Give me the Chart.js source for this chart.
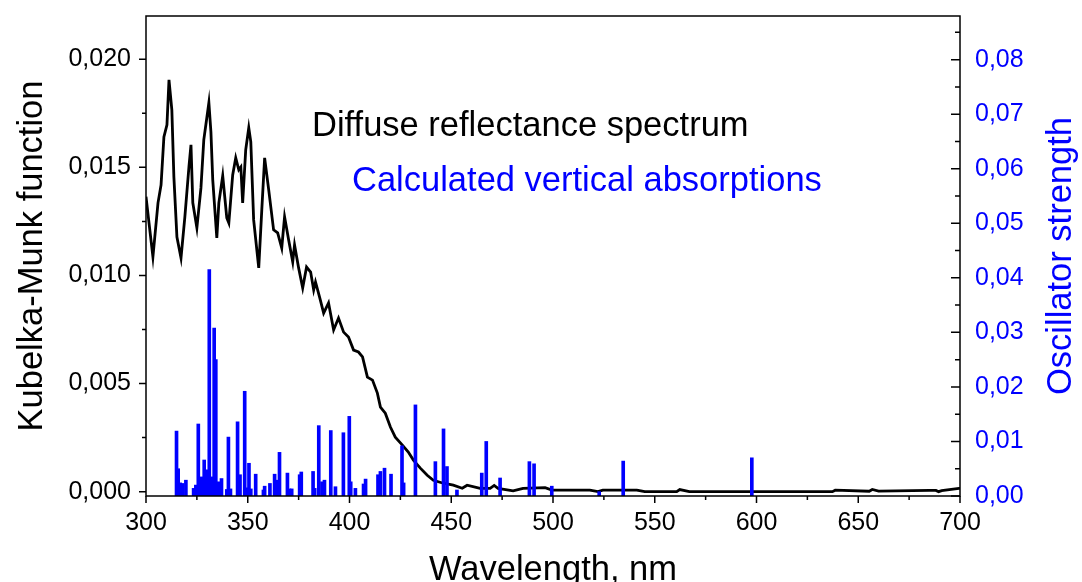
<!DOCTYPE html>
<html>
<head>
<meta charset="utf-8">
<script src="https://cdn.jsdelivr.net/npm/chart.js@4/dist/chart.umd.min.js"></script>
<style>
  body { margin: 0; background: #fff; }
  canvas { display: block; }
</style>
</head>
<body>
<canvas id="spectrumChart" width="1082" height="582"></canvas>
<script>
// Diffuse reflectance spectrum (Kubelka-Munk)
const specWl = [300, 303.4, 305.9, 307.4, 308.8, 310.3, 311.3, 312.7, 313.7, 315.2, 317.2, 319.1, 321.1, 322.1, 323.0,
  325.0, 327.0, 328.4, 330.9, 331.9, 332.8, 334.8, 335.8, 337.7, 339.7, 340.7, 342.6, 344.1, 345.6, 346.6, 347.5,
  349.0, 350.5, 351.5, 352.9, 355.4, 356.9, 358.3, 360.3, 362.7, 364.7, 366.7, 368.1, 370.1, 372.1, 373.0, 375.0,
  377.0, 378.9, 380.9, 382.4, 383.3, 385.3, 387.3, 389.7, 392.2, 394.6, 397.1, 399.5, 402.0, 404.4, 406.4, 408.8,
  411.3, 413.7, 415.2, 417.6, 420.1, 422.5, 426.0, 428.9, 431.4, 434.8, 438.2, 441.2, 446.1, 451.0, 455.4, 457.8,
  464.2, 469.1, 471.1, 473.0, 480.4, 485.3, 496.1, 499.5, 518.1, 522.1, 524.5, 541.2, 545.1, 560.8, 562.3, 567.0,
  637.3, 638.7, 655.4, 656.9, 660.0, 685.0, 688.2, 689.5, 691.0, 699.5, 700];
const specKM = [0.01364, 0.01086, 0.01336, 0.01419, 0.01641, 0.01697, 0.01905, 0.01766, 0.01456, 0.01178, 0.01081,
  0.01271, 0.01502, 0.01604, 0.01336, 0.01220, 0.01405, 0.01627, 0.01799, 0.01664, 0.01442, 0.01174, 0.01336,
  0.01461, 0.01266, 0.01243, 0.01465, 0.01544, 0.01489, 0.01502, 0.01336, 0.01581, 0.01683, 0.01618, 0.01257,
  0.01035, 0.01303, 0.01544, 0.01396, 0.01211, 0.01197, 0.01127, 0.01271, 0.01164, 0.01063, 0.01141, 0.01035,
  0.00942, 0.01039, 0.01016, 0.00933, 0.00970, 0.00900, 0.00826, 0.00873, 0.00748, 0.00803, 0.00738, 0.00715,
  0.00655, 0.00646, 0.00623, 0.00530, 0.00516, 0.00456, 0.00391, 0.00363, 0.00299, 0.00252, 0.00215, 0.00183,
  0.00146, 0.00109, 0.00076, 0.00053, 0.00039, 0.00030, 0.00016, 0.00030,
  0.00015, 0.00015, 0.00029, 0.00015, 0.00004, 0.00015, 0.00019, 0.00007, 0.00007, 0.00000, 0.00007, 0.00007,
  0.00000, 0.00000, 0.00010, 0.00000, 0.00000, 0.00007, 0.00002, 0.00010, 0.00003, 0.00006, 0.00006, 0.00000,
  0.00005, 0.00015, 0.00015];

// Calculated vertical absorptions (oscillator strengths)
const stickWl = [315.0, 315.8, 316.8, 318.0, 319.6, 323.4, 324.5, 325.7, 327.3, 328.6, 329.8, 331.1, 332.2, 333.5,
  334.3, 335.5, 337.1, 339.7, 340.5, 341.5, 345.0, 346.2, 348.5, 349.3, 350.6, 351.5, 353.9, 357.7, 358.3, 360.9,
  363.2, 364.0, 365.6, 369.5, 370.5, 371.6, 375.5, 376.3, 382.1, 382.9, 384.9, 386.5, 387.7, 390.8, 393.1, 397.0,
  399.9, 400.6, 402.9, 406.9, 407.9, 414.0, 415.2, 417.2, 420.4, 425.8, 426.6, 432.4, 442.2, 446.2, 447.9, 452.8,
  465.0, 467.2, 474.0, 488.4, 490.7, 499.4, 522.7, 534.5, 597.7];
const stickF = [0.0119, 0.0050, 0.0024, 0.0023, 0.0029, 0.0014, 0.0020, 0.0132, 0.0035, 0.0066, 0.0048, 0.0415,
  0.0035, 0.0308, 0.0250, 0.0026, 0.0032, 0.0012, 0.0108, 0.0013, 0.0136, 0.0039, 0.0192, 0.0015, 0.0060, 0.0013,
  0.0040, 0.0011, 0.0018, 0.0023, 0.0040, 0.0029, 0.0080, 0.0042, 0.0013, 0.0013, 0.0039, 0.0044, 0.0045, 0.0014,
  0.0129, 0.0026, 0.0029, 0.0120, 0.0017, 0.0116, 0.0146, 0.0026, 0.0014, 0.0022, 0.0031, 0.0039, 0.0045, 0.0051,
  0.0040, 0.0092, 0.0024, 0.0167, 0.0063, 0.0123, 0.0054, 0.0011, 0.0042, 0.0100, 0.0033, 0.0063, 0.0059, 0.0018,
  0.0008, 0.0064, 0.0070];

// tick labels
const wlTicks = [300, 350, 400, 450, 500, 550, 600, 650, 700];
const kmTicks = [0, 0.005, 0.010, 0.015, 0.020];
const oscTicks = [0, 0.01, 0.02, 0.03, 0.04, 0.05, 0.06, 0.07, 0.08];

const FONT = 'Arial, "Liberation Sans", sans-serif';
const BLUE = '#0000ff';

function comma(v, d) {
  return v.toFixed(d).replace('.', ',');
}

// fixed axis boxes so the plot frame sits where the original one is
function fixWidth(w) {
  return s => { s.width = w; s.paddingTop = 0; s.paddingBottom = 0; };
}

// frame, Origin-style tick marks and the free texts
const frameAndText = {
  id: 'frameAndText',
  afterDraw(chart) {
    const { ctx, chartArea: a, scales } = chart;
    ctx.save();
    ctx.strokeStyle = '#000';
    ctx.lineWidth = 1.5;
    ctx.strokeRect(a.left, a.top, a.right - a.left, a.bottom - a.top);

    ctx.beginPath();
    for (let v = 300; v <= 700; v += 25) {
      const x = scales.x.getPixelForValue(v);
      const len = v % 50 === 0 ? 7 : 4;
      ctx.moveTo(x, a.bottom);
      ctx.lineTo(x, a.bottom + len);
    }
    for (let i = 0; i <= 8; i++) {
      const y = scales.y.getPixelForValue(i * 0.0025);
      const len = i % 2 === 0 ? 7 : 4;
      ctx.moveTo(a.left, y);
      ctx.lineTo(a.left - len, y);
    }
    for (let i = 0; i <= 17; i++) {
      const y = scales.y2.getPixelForValue(i * 0.005);
      const len = i % 2 === 0 ? 9 : 5;
      ctx.moveTo(a.right, y);
      ctx.lineTo(a.right - len, y);
    }
    ctx.stroke();

    ctx.font = '34.5px ' + FONT;
    ctx.textAlign = 'left';
    ctx.textBaseline = 'alphabetic';
    ctx.fillStyle = '#000';
    ctx.fillText('Diffuse reflectance spectrum', 312, 136);
    ctx.fillStyle = BLUE;
    ctx.fillText('Calculated vertical absorptions', 352, 191);

    // right title reads bottom to top like the left one
    ctx.translate(1061, (a.top + a.bottom) / 2);
    ctx.rotate(-Math.PI / 2);
    ctx.textAlign = 'center';
    ctx.textBaseline = 'middle';
    ctx.fillText('Oscillator strength', 0, 0);
    ctx.restore();
  }
};

const ctx = document.getElementById('spectrumChart').getContext('2d');
const chart = new Chart(ctx, {
  type: 'line',
  data: {
    datasets: [{
      type: 'bar',
      label: 'Calculated vertical absorptions',
      data: stickWl.map((w, i) => ({ x: w, y: stickF[i] })),
      yAxisID: 'y2',
      backgroundColor: BLUE,
      borderWidth: 0,
      barThickness: 3,
      grouped: false
    }, {
      label: 'Diffuse reflectance spectrum',
      data: specWl.map((w, i) => ({ x: w, y: specKM[i] })),
      yAxisID: 'y',
      borderColor: '#000',
      borderWidth: 2.8,
      pointRadius: 0,
      tension: 0,
      fill: false
    }]
  },
  options: {
    responsive: false,
    animation: false,
    layout: { padding: { top: 16, left: 0, right: 0, bottom: 0 } },
    plugins: {
      legend: { display: false },
      tooltip: { enabled: false }
    },
    scales: {
      x: {
        type: 'linear',
        min: 300,
        max: 700,
        offset: false,
        afterBuildTicks: s => { s.ticks = wlTicks.map(v => ({ value: v })); },
        afterFit: s => { s.height = 86; },
        grid: { display: false, drawTicks: false, offset: false },
        border: { display: false },
        ticks: {
          color: '#000',
          font: { family: FONT, size: 25 },
          padding: 12,
          maxRotation: 0
        },
        title: {
          display: true,
          text: 'Wavelength, nm',
          color: '#000',
          font: { family: FONT, size: 34.5, lineHeight: 0.65 },
          padding: { top: 0, bottom: 0 }
        }
      },
      y: {
        position: 'left',
        min: -0.0002,
        max: 0.022,
        afterBuildTicks: s => { s.ticks = kmTicks.map(v => ({ value: v })); },
        afterFit: fixWidth(146),
        grid: { display: false, drawTicks: false },
        border: { display: false },
        ticks: {
          color: '#000',
          font: { family: FONT, size: 25 },
          padding: 15,
          callback: v => comma(v, 3)
        },
        title: {
          display: true,
          text: 'Kubelka-Munk function',
          color: '#000',
          font: { family: FONT, size: 34.5, lineHeight: 1 },
          padding: { top: 15, bottom: 0 }
        }
      },
      y2: {
        position: 'right',
        min: 0,
        max: 0.088,
        afterBuildTicks: s => { s.ticks = oscTicks.map(v => ({ value: v })); },
        afterFit: fixWidth(122),
        grid: { display: false, drawTicks: false },
        border: { display: false },
        ticks: {
          color: BLUE,
          font: { family: FONT, size: 25 },
          padding: 15,
          callback: v => comma(v, 2)
        }
      }
    }
  },
  plugins: [frameAndText]
});
</script>
</body>
</html>
